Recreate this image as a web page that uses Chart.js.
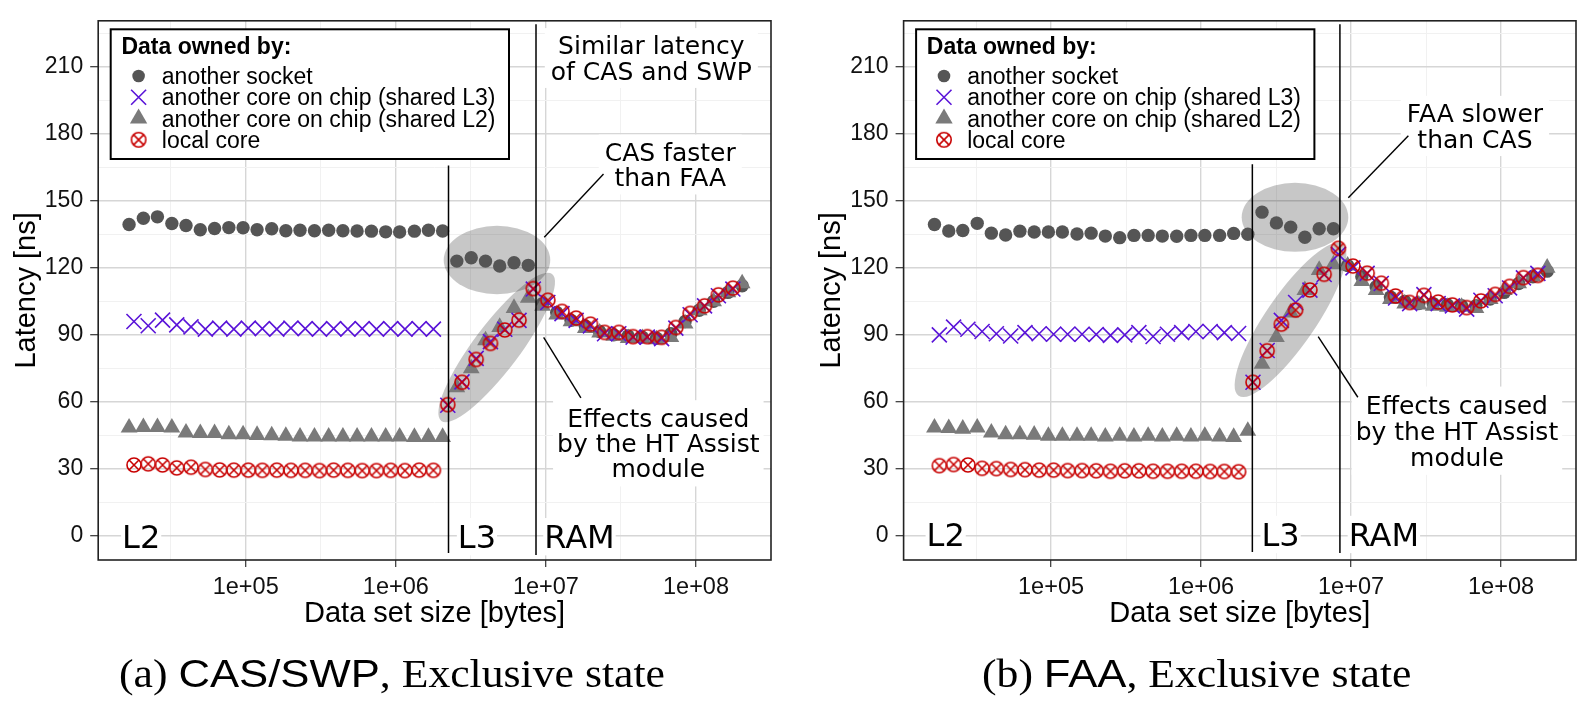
<!DOCTYPE html>
<html><head><meta charset="utf-8">
<script src="https://cdn.jsdelivr.net/npm/chart.js@4.4.1/dist/chart.umd.min.js"></script>
<style>
html,body{margin:0;padding:0;background:#fff;}
#wrap{position:relative;width:1595px;height:704px;overflow:hidden;background:#fff;}
canvas{position:absolute;top:0;}
.cap{position:absolute;top:654px;white-space:nowrap;font-family:'Liberation Serif',serif;font-size:39px;line-height:39px;color:#000;transform:scaleX(1.12);transform-origin:0 0;}
.cap .s{font-family:'Liberation Sans',sans-serif;}
</style></head><body>
<div id="wrap">
<canvas id="ca" width="800" height="704" style="left:0"></canvas>
<canvas id="cb" width="795" height="704" style="left:800px"></canvas>
<div class="cap" style="left:119px">(a) <span class="s">CAS/SWP</span>, Exclusive state</div>
<div class="cap" style="left:982px">(b) <span class="s">FAA</span>, Exclusive state</div>
</div>
<script>
// ---------- data (bytes / ns) ----------
const sizesA = [1.67e4, 2.08e4, 2.58e4, 3.22e4, 4.00e4, 4.98e4, 6.20e4, 7.72e4, 9.60e4, 1.19e5,
  1.49e5, 1.85e5, 2.30e5, 2.87e5, 3.57e5, 4.44e5, 5.52e5, 6.88e5, 8.56e5, 1.06e6,
  1.33e6, 1.65e6, 2.05e6, 2.55e6, 3.18e6, 3.96e6, 4.92e6, 6.13e6, 7.63e6, 9.49e6,
  1.18e7, 1.47e7, 1.83e7, 2.28e7, 2.83e7, 3.53e7, 4.39e7, 5.46e7, 6.80e7, 8.46e7,
  1.05e8, 1.31e8, 1.63e8, 2.03e8];
const sizesB = [1.80e4, 2.24e4, 2.79e4, 3.47e4, 4.32e4, 5.38e4, 6.70e4, 8.33e4, 1.04e5, 1.29e5,
  1.61e5, 2.00e5, 2.49e5, 3.10e5, 3.85e5, 4.79e5, 5.97e5, 7.43e5, 9.24e5, 1.15e6,
  1.43e6, 1.78e6, 2.22e6, 2.76e6, 3.43e6, 4.27e6, 5.32e6, 6.62e6, 8.24e6, 1.03e7,
  1.28e7, 1.59e7, 1.98e7, 2.46e7, 3.06e7, 3.81e7, 4.74e7, 5.90e7, 7.34e7, 9.14e7,
  1.14e8, 1.41e8, 1.76e8];

const casSocket = [139.4, 142.2, 142.8, 139.8, 138.9, 137.0, 137.6, 138.0, 137.9, 137.0, 137.5, 136.6, 136.8, 136.6, 136.8, 136.6, 136.5, 136.4, 136.1, 136.0, 136.4, 136.8, 136.5,
  123.0, 124.5, 123.0, 120.8, 122.3, 121.1,
  104.0, 100.0, 96.5, 94.0, 91.5, 90.0, 89.5, 89.0, 88.5, 90.5, 96.0, 101.0, 105.0, 109.0, 112.0];
const casSharedL2 = [48.5, 48.7, 48.7, 48.5, 46.3, 46.0, 46.0, 45.5, 45.5, 45.2, 45.0, 44.8, 44.5, 44.5, 44.5, 44.5, 44.5, 44.5, 44.5, 44.5, 44.3, 44.3, 44.3,
  66.5, 75.0, 87.5, 93.5, 102.0, 106.5,
  103.0, 99.0, 96.0, 93.0, 91.0, 89.5, 88.5, 88.5, 88.0, 89.0, 95.0, 101.0, 105.0, 109.0, 113.0];
const casSharedL3 = [96.0, 94.1, 96.6, 94.5, 93.6, 92.6, 93.0, 92.6, 93.0, 92.8, 92.6, 93.0, 92.8, 92.6, 92.8, 92.6, 92.8, 92.6, 92.8, 92.6, 92.8, 92.6,
  58.5, 69.0, 79.5, 87.0, 92.5, 96.5, 110.5,
  104.5, 99.5, 96.5, 94.0, 90.5, 90.5, 89.0, 89.0, 88.3, 93.0, 99.0, 103.0, 107.5, 110.5];
const casLocal = [31.8, 32.3, 31.8, 30.5, 30.8, 29.8, 29.6, 29.5, 29.5, 29.4, 29.5, 29.4, 29.4, 29.3, 29.5, 29.4, 29.3, 29.3, 29.4, 29.3, 29.5, 29.4,
  58.8, 68.8, 79.0, 86.2, 92.2, 96.6, 110.7,
  105.5, 100.5, 97.5, 94.8, 91.1, 91.1, 89.2, 89.2, 88.9, 93.3, 99.6, 103.0, 107.9, 110.9];

const faaSocket = [139.4, 136.5, 136.7, 139.9, 135.5, 134.7, 136.4, 136.0, 136.0, 136.0, 135.1, 135.5, 134.2, 133.5, 134.5, 134.5, 134.2, 134.1, 134.5, 134.5, 134.5, 135.4, 135.0,
  144.9, 140.1, 138.2, 133.7, 137.5, 137.5,
  121.0, 116.0, 111.5, 107.0, 105.0, 104.0, 104.0, 103.5, 103.0, 103.0, 106.0, 109.0, 113.0, 116.0, 118.5];
const faaSharedL2 = [48.5, 48.3, 48.0, 48.5, 46.3, 45.5, 45.5, 45.3, 44.8, 44.8, 44.8, 44.8, 44.5, 44.8, 44.5, 44.8, 44.5, 44.8, 44.5, 44.8, 44.5, 44.3, 47.0,
  77.0, 89.0, 100.0, 110.0, 119.0, 121.5,
  121.0, 114.0, 110.0, 106.0, 104.0, 103.5, 103.0, 102.5, 102.5, 102.0, 106.0, 110.0, 113.0, 116.0, 120.0];
const faaSharedL3 = [90.0, 93.5, 92.5, 91.5, 90.5, 89.5, 91.0, 90.5, 90.3, 90.3, 90.3, 90.2, 89.8, 90.0, 91.0, 89.3, 90.3, 91.0, 91.5, 91.5, 91.0, 90.6,
  68.8, 83.0, 96.5, 104.5, 110.0, 117.0, 126.0,
  120.0, 117.5, 113.0, 106.5, 104.0, 108.0, 104.0, 103.0, 101.5, 105.5, 107.5, 111.0, 115.5, 117.5];
const faaLocal = [31.5, 32.0, 31.8, 30.3, 30.2, 29.8, 29.7, 29.5, 29.5, 29.3, 29.3, 29.2, 29.0, 29.2, 29.2, 29.0, 29.0, 29.0, 29.0, 28.9, 28.9, 28.8,
  68.8, 82.9, 94.8, 101.1, 110.1, 117.1, 128.7,
  120.8, 117.6, 113.1, 107.4, 104.5, 107.7, 104.7, 103.4, 102.2, 105.2, 108.1, 111.7, 115.6, 116.6];

const seriesNames = ['another socket', 'another core on chip (shared L3)', 'another core on chip (shared L2)', 'local core'];
const legendTitle = 'Data owned by:';
const yTickValues = [0, 15, 30, 45, 60, 75, 90, 105, 120, 135, 150, 165, 180, 195, 210, 225];
const xTickValues = [31623, 1e5, 316228, 1e6, 3162278, 1e7, 31622777, 1e8];
const xTickLabels = {'100000': '1e+05', '1000000': '1e+06', '10000000': '1e+07', '100000000': '1e+08'};

// ---------- styles ----------
const C_SOCKET = '#555555', C_TRI = '#7a7a7a', C_PURPLE = '#5a14d8', C_RED = '#c80000';

function makeOtimes(r, lw, color) {
  const s = Math.ceil(2 * r + lw + 2);
  const c = document.createElement('canvas'); c.width = s; c.height = s;
  const g = c.getContext('2d'); const m = s / 2;
  g.strokeStyle = color; g.lineWidth = lw;
  g.beginPath(); g.arc(m, m, r, 0, Math.PI * 2); g.stroke();
  const d = r * Math.SQRT1_2;
  g.beginPath(); g.moveTo(m - d, m - d); g.lineTo(m + d, m + d); g.moveTo(m + d, m - d); g.lineTo(m - d, m + d); g.stroke();
  return c;
}
const otimes = makeOtimes(7, 1.6, C_RED);
const otimesLeg = makeOtimes(7.2, 1.6, C_RED);

function pts(xs, ys) { return ys.map((v, i) => ({x: xs[i], y: v})); }

function drawMarker(ctx, kind, x, y) {
  ctx.save();
  if (kind === 0) { ctx.fillStyle = C_SOCKET; ctx.beginPath(); ctx.arc(x, y, 6.3, 0, 2 * Math.PI); ctx.fill(); }
  else if (kind === 1) { ctx.strokeStyle = C_PURPLE; ctx.lineWidth = 1.6; const d = 7.5; ctx.beginPath(); ctx.moveTo(x - d, y - d); ctx.lineTo(x + d, y + d); ctx.moveTo(x + d, y - d); ctx.lineTo(x - d, y + d); ctx.stroke(); }
  else if (kind === 2) { const r = 10; ctx.fillStyle = C_TRI; ctx.beginPath(); ctx.moveTo(x, y - r); ctx.lineTo(x + r * 0.866, y + r * 0.5); ctx.lineTo(x - r * 0.866, y + r * 0.5); ctx.closePath(); ctx.fill(); }
  else { ctx.drawImage(otimesLeg, x - otimesLeg.width / 2, y - otimesLeg.height / 2); }
  ctx.restore();
}

function decorPlugin(cfg) {
  return {
    id: 'decor',
    beforeDatasetsDraw(chart) {
      const ctx = chart.ctx, xs = chart.scales.x, ys = chart.scales.y;
      ctx.save();
      ctx.fillStyle = 'rgba(0,0,0,0.22)';
      cfg.ellipses.forEach(e => {
        ctx.beginPath();
        ctx.ellipse(xs.getPixelForValue(e.x), ys.getPixelForValue(e.y), e.rx, e.ry, e.rot * Math.PI / 180, 0, Math.PI * 2);
        ctx.fill();
      });
      ctx.restore();
    },
    afterDatasetsDraw(chart) {
      const ctx = chart.ctx, xs = chart.scales.x, ys = chart.scales.y, a = chart.chartArea;
      ctx.save();
      cfg.labels.forEach(L => {
        ctx.font = L.size + "px 'DejaVu Sans'";
        const x0 = xs.getPixelForValue(L.x), b0 = ys.getPixelForValue(L.y);
        const maxW = Math.max(...L.lines.map(t => ctx.measureText(t).width));
        const capH = 0.729 * L.size;
        const left = L.align === 'center' ? x0 - maxW / 2 : x0;
        const top = b0 - capH, bottom = b0 + (L.lines.length - 1) * L.lh;
        ctx.fillStyle = '#fff';
        ctx.fillRect(left - L.padX, top - L.padY, maxW + 2 * L.padX, bottom - top + 2 * L.padY);
        ctx.fillStyle = '#000'; ctx.textAlign = L.align; ctx.textBaseline = 'alphabetic';
        L.lines.forEach((t, i) => ctx.fillText(t, x0, b0 + i * L.lh));
      });
      ctx.strokeStyle = '#000'; ctx.lineWidth = 1.5;
      cfg.vlines.forEach(v => {
        const x = xs.getPixelForValue(v.x);
        ctx.beginPath(); ctx.moveTo(x, ys.getPixelForValue(v.y0)); ctx.lineTo(x, ys.getPixelForValue(v.y1)); ctx.stroke();
      });
      ctx.lineWidth = 1.4;
      cfg.pointers.forEach(p => {
        ctx.beginPath(); ctx.moveTo(xs.getPixelForValue(p[0]), ys.getPixelForValue(p[1])); ctx.lineTo(xs.getPixelForValue(p[2]), ys.getPixelForValue(p[3])); ctx.stroke();
      });
      ctx.strokeStyle = '#222'; ctx.lineWidth = 1.6;
      ctx.strokeRect(a.left, a.top, a.right - a.left, a.bottom - a.top);
      const bx = a.left + 12.5, by = 29.3, bw = 398.3, bh = 129.7;
      ctx.fillStyle = '#fff'; ctx.fillRect(bx, by, bw, bh);
      ctx.strokeStyle = '#000'; ctx.lineWidth = 2; ctx.strokeRect(bx, by, bw, bh);
      ctx.fillStyle = '#000'; ctx.textAlign = 'left'; ctx.textBaseline = 'alphabetic';
      ctx.font = "bold 23px 'Liberation Sans'";
      ctx.fillText(legendTitle, bx + 10.7, by + 25);
      ctx.font = "23px 'Liberation Sans'";
      seriesNames.forEach((n, i) => {
        const bl = by + 54.7 + 21.27 * i;
        drawMarker(ctx, i, bx + 27.9, bl - 8);
        ctx.fillStyle = '#000';
        ctx.fillText(n, bx + 51.1, bl);
      });
      ctx.font = "29px 'Liberation Sans'"; ctx.fillStyle = '#000'; ctx.textAlign = 'center';
      ctx.fillText('Data set size [bytes]', (a.left + a.right) / 2, 621.7);
      ctx.translate(a.left - 63.5, (a.top + a.bottom) / 2); ctx.rotate(-Math.PI / 2);
      ctx.fillText('Latency [ns]', 0, 0);
      ctx.restore();
    }
  };
}

function makeChart(id, data, cfg, yAxisWidth, padRight) {
  const isMajorX = v => Math.abs(Math.log10(v) - Math.round(Math.log10(v))) < 1e-6;
  return new Chart(document.getElementById(id), {
    type: 'scatter',
    data: {
      datasets: [
        {label: seriesNames[3], data: pts(sizesB, data.local), pointStyle: otimes, pointRadius: 7},
        {label: seriesNames[1], data: pts(sizesB, data.l3), pointStyle: 'crossRot', pointRadius: 10.6, borderColor: C_PURPLE, pointBorderWidth: 1.6, backgroundColor: C_PURPLE},
        {label: seriesNames[2], data: pts(sizesA, data.l2), pointStyle: 'triangle', pointRadius: 9.7, backgroundColor: C_TRI, borderColor: C_TRI, pointBorderWidth: 0},
        {label: seriesNames[0], data: pts(sizesA, data.socket), pointStyle: 'circle', pointRadius: 6.7, backgroundColor: C_SOCKET, borderColor: C_SOCKET, pointBorderWidth: 0}
      ]
    },
    options: {
      responsive: false, animation: false, devicePixelRatio: 1, events: [],
      layout: {padding: {left: 0, right: padRight, top: 19, bottom: 0}},
      plugins: {legend: {display: false}, tooltip: {enabled: false}},
      scales: {
        x: {
          type: 'logarithmic', min: 1.04e4, max: 3.16e8,
          afterBuildTicks: s => { s.ticks = xTickValues.map(v => ({value: v})); },
          afterFit: s => { s.height = 144; },
          ticks: {autoSkip: false, maxRotation: 0, padding: 6, color: '#111', font: {family: 'Liberation Sans', size: 23.5},
            callback: v => xTickLabels[String(Math.round(v))] || ''},
          grid: {color: c => isMajorX(c.tick.value) ? '#d6d6d6' : '#f1f1f1', lineWidth: c => isMajorX(c.tick.value) ? 1.4 : 1,
            tickLength: 7, tickWidth: 1.2, tickColor: c => isMajorX(c.tick.value) ? '#333' : 'rgba(0,0,0,0)'},
          border: {display: false}
        },
        y: {
          min: -10.7, max: 230.5,
          afterBuildTicks: s => { s.ticks = yTickValues.map(v => ({value: v})); },
          afterFit: s => { s.width = yAxisWidth; },
          ticks: {autoSkip: false, padding: 7, color: '#111', font: {family: 'Liberation Sans', size: 23},
            callback: v => (v % 30 === 0 ? String(v) : '')},
          grid: {color: c => c.tick.value % 30 === 0 ? '#d6d6d6' : '#f1f1f1', lineWidth: c => c.tick.value % 30 === 0 ? 1.4 : 1,
            tickLength: 8, tickWidth: 1.2, tickColor: c => c.tick.value % 30 === 0 ? '#333' : 'rgba(0,0,0,0)'},
          border: {display: false}
        }
      }
    },
    plugins: [decorPlugin(cfg)]
  });
}

const cfgA = {
  ellipses: [
    {x: 4.72e6, y: 123.5, rx: 53.3, ry: 34.2, rot: 0},
    {x: 4.70e6, y: 84.4, rx: 92, ry: 23, rot: -53}
  ],
  labels: [
    {lines: ['Similar latency', 'of CAS and SWP'], x: 5.04e7, y: 215.5, lh: 25.6, size: 25, align: 'center', padX: 6, padY: 8},
    {lines: ['CAS faster', 'than FAA'], x: 6.74e7, y: 167.9, lh: 25.7, size: 25, align: 'center', padX: 6, padY: 8},
    {lines: ['Effects caused', 'by the HT Assist', 'module'], x: 5.61e7, y: 48.6, lh: 25, size: 25, align: 'center', padX: 4, padY: 9},
    {lines: ['L2'], x: 1.50e4, y: -5.5, lh: 0, size: 32, align: 'left', padX: 1, padY: 7},
    {lines: ['L3'], x: 2.59e6, y: -5.5, lh: 0, size: 32, align: 'left', padX: 1, padY: 7},
    {lines: ['RAM'], x: 9.75e6, y: -5.5, lh: 0, size: 32, align: 'left', padX: 1, padY: 7}
  ],
  vlines: [{x: 2.244e6, y0: -7.6, y1: 165.8}, {x: 8.59e6, y0: -8.5, y1: 229}],
  pointers: [[2.42e7, 162.0, 9.75e6, 133.7], [9.66e6, 88.9, 1.71e7, 61.8]]
};
const cfgB = {
  ellipses: [
    {x: 4.23e6, y: 142.6, rx: 53.3, ry: 34.5, rot: 0},
    {x: 3.95e6, y: 96.7, rx: 92, ry: 25, rot: -55.6}
  ],
  labels: [
    {lines: ['FAA slower', 'than CAS'], x: 6.70e7, y: 185.2, lh: 26, size: 25, align: 'center', padX: 6, padY: 8},
    {lines: ['Effects caused', 'by the HT Assist', 'module'], x: 5.08e7, y: 54.7, lh: 26, size: 25, align: 'center', padX: 4, padY: 9},
    {lines: ['L2'], x: 1.48e4, y: -4.5, lh: 0, size: 32, align: 'left', padX: 1, padY: 7},
    {lines: ['L3'], x: 2.53e6, y: -4.5, lh: 0, size: 32, align: 'left', padX: 1, padY: 7},
    {lines: ['RAM'], x: 9.64e6, y: -4.5, lh: 0, size: 32, align: 'left', padX: 1, padY: 7}
  ],
  vlines: [{x: 2.198e6, y0: -7.1, y1: 166.3}, {x: 8.43e6, y0: -7.6, y1: 229}],
  pointers: [[2.41e7, 179.1, 9.59e6, 151.3], [6.04e6, 89.2, 1.11e7, 62.1]]
};

makeChart('ca', {socket: casSocket, l3: casSharedL3, l2: casSharedL2, local: casLocal}, cfgA, 98.2, 29);
makeChart('cb', {socket: faaSocket, l3: faaSharedL3, l2: faaSharedL2, local: faaLocal}, cfgB, 103.6, 19);
</script>
</body></html>
